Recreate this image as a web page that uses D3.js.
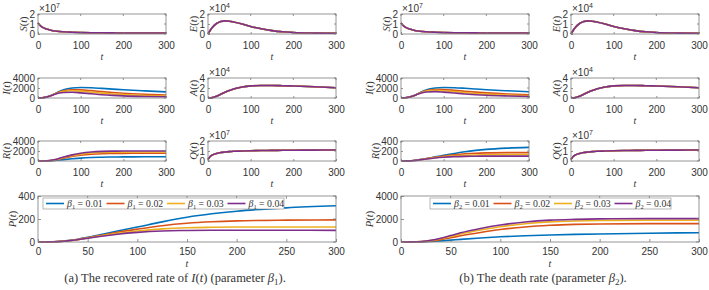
<!DOCTYPE html>
<html>
<head>
<meta charset="utf-8">
<script src="https://cdn.jsdelivr.net/npm/d3@7"></script>
<style>
  body { margin: 0; background: #fff; }
  text { font-family: "Liberation Sans", Arial, sans-serif; fill: #333; }
  .serif { font-family: "Liberation Serif", "Times New Roman", serif; }
</style>
</head>
<body>
<svg id="chart" width="709" height="290"></svg>
<script>
// time samples (days)
const tGrid = [0, 5, 10, 20, 30, 40, 50, 60, 80, 100, 125, 150, 175, 200, 250, 300];

const colors = ["#0072BD", "#D95319", "#EDB120", "#7E2F8E"];
const betaValues = ["0.01", "0.02", "0.03", "0.04"];

// curves that coincide for every beta (x10^7 / x10^4)
const S = [1.1, 0.85, 0.68, 0.5, 0.38, 0.3, 0.25, 0.22, 0.18, 0.15, 0.13, 0.12, 0.11, 0.1, 0.1, 0.1];
const E = [0, 0.35, 0.65, 1.05, 1.25, 1.31, 1.28, 1.2, 1.0, 0.76, 0.52, 0.34, 0.22, 0.15, 0.09, 0.07];
const A = [0, 0.02, 0.08, 0.35, 0.75, 1.15, 1.5, 1.8, 2.2, 2.42, 2.5, 2.5, 2.45, 2.4, 2.25, 2.05];
const Q = [0.15, 0.45, 0.6, 0.75, 0.85, 0.9, 0.94, 0.97, 1.0, 1.03, 1.05, 1.06, 1.07, 1.08, 1.09, 1.1];

// (a) beta1 = 0.01 .. 0.04
const Ia = [
  [0, 20, 60, 200, 480, 880, 1300, 1650, 2000, 2100, 2050, 1920, 1780, 1640, 1420, 1220],
  [0, 20, 60, 200, 470, 850, 1200, 1450, 1650, 1620, 1470, 1280, 1100, 950, 740, 600],
  [0, 20, 58, 190, 450, 810, 1110, 1320, 1450, 1370, 1170, 970, 810, 680, 500, 390],
  [0, 20, 55, 180, 430, 760, 990, 1110, 1150, 1030, 840, 660, 530, 430, 310, 240]
];
const Ra = [
  [0, 1, 3, 15, 50, 110, 190, 280, 440, 580, 690, 760, 800, 820, 840, 850],
  [0, 1, 6, 30, 100, 220, 390, 570, 890, 1140, 1340, 1450, 1500, 1530, 1550, 1550],
  [0, 2, 7, 35, 115, 260, 470, 690, 1080, 1380, 1600, 1710, 1760, 1780, 1790, 1790],
  [0, 2, 8, 40, 130, 300, 540, 790, 1230, 1560, 1800, 1920, 1970, 1990, 2000, 1990]
];
const Pa = [
  [0, 0, 1, 4, 12, 24, 40, 58, 95, 130, 175, 215, 245, 268, 297, 315],
  [0, 0, 1, 4, 11, 22, 37, 53, 85, 112, 142, 163, 176, 184, 190, 192],
  [0, 0, 1, 4, 10, 21, 35, 49, 76, 96, 114, 124, 128, 130, 131, 131],
  [0, 0, 1, 3, 10, 20, 33, 46, 68, 84, 96, 100, 102, 102, 102, 101]
];

// (b) beta2 = 0.01 .. 0.04
const Ib = [
  [0, 20, 60, 200, 480, 880, 1300, 1650, 2000, 2100, 2060, 1940, 1800, 1660, 1440, 1240],
  [0, 20, 60, 200, 470, 850, 1220, 1480, 1700, 1680, 1540, 1350, 1170, 1020, 800, 660],
  [0, 20, 58, 195, 460, 830, 1150, 1380, 1520, 1460, 1280, 1080, 910, 770, 580, 460],
  [0, 20, 56, 185, 440, 780, 1050, 1200, 1280, 1180, 1000, 810, 660, 540, 400, 310]
];
const Rb = [
  [0, 0, 1, 4, 11, 21, 35, 50, 82, 112, 150, 185, 212, 233, 258, 272],
  [0, 0, 1, 4, 10, 20, 33, 47, 76, 100, 126, 145, 156, 162, 167, 168],
  [0, 0, 1, 4, 10, 19, 31, 44, 68, 86, 103, 113, 120, 124, 128, 129],
  [0, 0, 1, 3, 9, 18, 29, 41, 61, 75, 87, 93, 96, 97, 98, 98]
];
const Pb = [
  [0, 1, 3, 13, 45, 95, 160, 230, 350, 450, 540, 610, 660, 700, 760, 810],
  [0, 1, 5, 28, 95, 210, 370, 540, 830, 1080, 1310, 1450, 1530, 1570, 1600, 1600],
  [0, 2, 7, 38, 125, 280, 480, 690, 1040, 1330, 1590, 1750, 1830, 1870, 1890, 1890],
  [0, 2, 8, 45, 150, 330, 560, 800, 1180, 1480, 1740, 1900, 1970, 2010, 2030, 2030]
];

const smallTicksX = [0, 100, 200, 300];
const bigTicksX = [0, 50, 100, 150, 200, 250, 300];

const svg = d3.select("#chart");
const all4 = s => [s, s, s, s];
const fmt = d => String(d);

function plot(ox, oy, w, h, spec) {
  const g = svg.append("g").attr("transform", `translate(${ox},${oy})`);
  const x = d3.scaleLinear().domain([0, 300]).range([0, w]);
  const y = d3.scaleLinear().domain([0, spec.yTicks[spec.yTicks.length - 1]]).range([h, 0]);
  const tl = spec.tickLen;

  const line = d3.line()
    .x((d, i) => x(tGrid[i]))
    .y(d => y(d))
    .curve(d3.curveMonotoneX);

  spec.series.forEach((s, k) => {
    g.append("path")
      .attr("d", line(s))
      .attr("fill", "none")
      .attr("stroke", colors[k])
      .attr("stroke-width", 1.6);
  });

  g.append("rect")
    .attr("width", w).attr("height", h)
    .attr("fill", "none").attr("stroke", "#7a7a7a").attr("stroke-width", 0.8);

  // bottom + left axes with inward ticks
  const xa = g.append("g").attr("transform", `translate(0,${h})`)
    .call(d3.axisBottom(x).tickValues(spec.xTicks).tickFormat(fmt)
      .tickSizeInner(-tl).tickSizeOuter(0).tickPadding(spec.xPad));
  const ya = g.append("g")
    .call(d3.axisLeft(y).tickValues(spec.yTicks).tickFormat(fmt)
      .tickSizeInner(-tl).tickSizeOuter(0).tickPadding(3));
  [xa, ya].forEach(a => {
    a.select(".domain").remove();
    a.selectAll("line").attr("stroke", "#7a7a7a").attr("stroke-width", 0.8);
    a.selectAll("text").attr("font-size", 10).attr("fill", "#333");
  });

  // top + right ticks
  g.selectAll(".tt").data(spec.xTicks).join("line")
    .attr("x1", d => x(d)).attr("x2", d => x(d)).attr("y1", 0).attr("y2", tl)
    .attr("stroke", "#7a7a7a").attr("stroke-width", 0.8);
  g.selectAll(".rt").data(spec.yTicks).join("line")
    .attr("x1", w).attr("x2", w - tl).attr("y1", d => y(d)).attr("y2", d => y(d))
    .attr("stroke", "#7a7a7a").attr("stroke-width", 0.8);

  // y label, set just left of the widest tick label
  let tw = 0;
  ya.selectAll("text").each(function () { tw = Math.max(tw, this.getComputedTextLength()); });
  const lx = -3 - tw - 2.6;
  const yl = g.append("text").attr("class", "serif")
    .attr("transform", `translate(${lx},${h / 2}) rotate(-90)`)
    .attr("text-anchor", "middle").attr("font-size", 10.5);
  yl.append("tspan").attr("font-style", "italic").text(spec.label);
  yl.append("tspan").text("(");
  yl.append("tspan").attr("font-style", "italic").text("t");
  yl.append("tspan").text(")");

  // x label
  g.append("text").attr("class", "serif")
    .attr("x", w / 2).attr("y", h + spec.tY)
    .attr("text-anchor", "middle").attr("font-size", 10).attr("font-style", "italic")
    .text("t");

  // exponent
  if (spec.exp) {
    const ex = g.append("text").attr("x", 1).attr("y", -2).attr("font-size", 10);
    ex.append("tspan").text("\u00d710");
    ex.append("tspan").attr("font-size", 7).attr("dy", -4).text(spec.exp);
  }
  return g;
}

function legend(g, lx, ly, idx) {
  const lg = g.append("g").attr("transform", `translate(${lx},${ly})`);
  lg.append("rect").attr("width", 241).attr("height", 11)
    .attr("fill", "#fff").attr("stroke", "#888").attr("stroke-width", 0.6);
  betaValues.forEach((b, k) => {
    const ex = 3 + k * 60.5;
    lg.append("line").attr("x1", ex).attr("x2", ex + 18).attr("y1", 5.5).attr("y2", 5.5)
      .attr("stroke", colors[k]).attr("stroke-width", 1.6);
    const t = lg.append("text").attr("class", "serif").attr("x", ex + 21).attr("y", 8.5)
      .attr("font-size", 9.8);
    t.append("tspan").attr("font-style", "italic").text("\u03b2");
    t.append("tspan").attr("font-size", 6.5).attr("dy", 2).text(idx);
    t.append("tspan").attr("dy", -2).text(" = " + b);
  });
}

function panel(ox, I, R, P, idx, legendX) {
  const sw = 128, sh = 20;
  const cols = [38, 208], rows = [14, 78, 141];
  const base = { xTicks: smallTicksX, tickLen: 2, xPad: 7.5, tY: 26 };
  plot(ox + cols[0], rows[0], sw, sh, { ...base, label: "S", yTicks: [0, 1, 2], exp: 7, series: all4(S) });
  plot(ox + cols[1], rows[0], sw, sh, { ...base, label: "E", yTicks: [0, 1, 2], exp: 4, series: all4(E) });
  plot(ox + cols[0], rows[1], sw, sh, { ...base, label: "I", yTicks: I.ticks, series: I.data });
  plot(ox + cols[1], rows[1], sw, sh, { ...base, label: "A", yTicks: [0, 2, 4], exp: 4, series: all4(A) });
  plot(ox + cols[0], rows[2], sw, sh, { ...base, label: "R", yTicks: R.ticks, series: R.data });
  plot(ox + cols[1], rows[2], sw, sh, { ...base, label: "Q", yTicks: [0, 1, 2], exp: 7, series: all4(Q) });
  const pg = plot(ox + 38, 196, 298, 46, { xTicks: bigTicksX, tickLen: 3, xPad: 6, tY: 25,
    label: "P", yTicks: P.ticks, series: P.data });
  legend(pg, legendX, 2, idx);
}

panel(0, { ticks: [0, 2000, 4000], data: Ia }, { ticks: [0, 2000, 4000], data: Ra },
  { ticks: [0, 200, 400], data: Pa }, "1", 5);
panel(363, { ticks: [0, 2000, 4000], data: Ib }, { ticks: [0, 200, 400], data: Rb },
  { ticks: [0, 2000, 4000], data: Pb }, "2", 29);

// captions
function caption(cx, parts) {
  const t = svg.append("text").attr("class", "serif").attr("x", cx).attr("y", 282)
    .attr("text-anchor", "middle").attr("font-size", 12.5).attr("fill", "#222");
  parts.forEach(p => {
    const s = t.append("tspan").text(p.t);
    if (p.i) s.attr("font-style", "italic");
    if (p.sub) s.attr("font-size", 9).attr("dy", 3);
    if (p.up) s.attr("dy", -3);
  });
}
caption(175, [{ t: "(a) The recovered rate of " }, { t: "I", i: 1 }, { t: "(" }, { t: "t", i: 1 },
  { t: ") (parameter " }, { t: "\u03b2", i: 1 }, { t: "1", sub: 1 }, { t: ").", up: 1 }]);
caption(543, [{ t: "(b) The death rate (parameter " }, { t: "\u03b2", i: 1 }, { t: "2", sub: 1 }, { t: ").", up: 1 }]);
</script>
</body>
</html>
